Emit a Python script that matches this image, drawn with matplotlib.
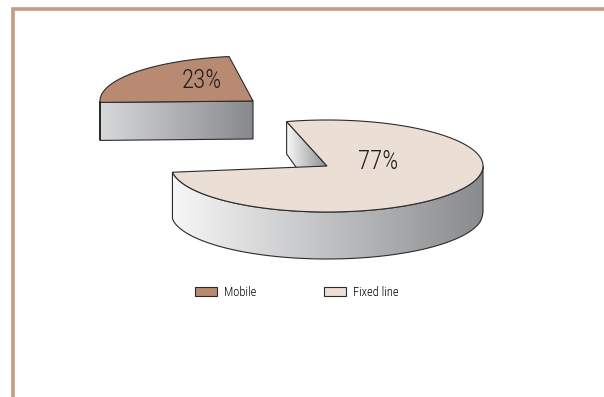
import numpy as np
import matplotlib
matplotlib.use('Agg')
import matplotlib.pyplot as plt
from matplotlib.patches import Polygon, Patch
from matplotlib.colors import LinearSegmentedColormap

categories = ['Mobile', 'Fixed line']
shares = [23, 77]
pct_labels = ['23%', '77%']
top_colors = ['#b98a72', '#ebdfd5']

FONT = ['Roboto Condensed', 'DejaVu Sans']
plt.rcParams['font.family'] = FONT
plt.rcParams['font.weight'] = 'light'

fig = plt.figure(figsize=(6.04, 3.97), dpi=100)
ax = fig.add_axes([0, 0, 1, 1])
ax.set_xlim(0, 604)
ax.set_ylim(397, 0)
ax.axis('off')

# frame (left + top)
ax.plot([13, 13, 604], [397, 9, 9], color='#c49b84', lw=2.6, solid_joinstyle='miter')

# layout of each slice (exploded mobile slice drawn separately, perspective tweaks)
geom = {
    'Mobile':     dict(cx=253, cy=101, a=153, b=45, rot=-6, dmax=38, dmin=38,
                       light='#d6d8da', dark='#87898c'),
    'Fixed line': dict(cx=327, cy=166, a=156, b=46, rot=0, dmax=47, dmin=32,
                       light='#f7f7f7', dark='#898b8e'),
}
start_angle = 105.0
label_pos = {'Mobile': (202, 81), 'Fixed line': (378, 162)}


def grad_fill(poly_xy, light, dark):
    poly = Polygon(poly_xy, closed=True, facecolor='none', edgecolor='none')
    ax.add_patch(poly)
    xs, ys = poly_xy[:, 0], poly_xy[:, 1]
    cmap = LinearSegmentedColormap.from_list('g', [light, dark])
    grad = np.linspace(0, 1, 256).reshape(1, -1)
    im = ax.imshow(grad, cmap=cmap, aspect='auto',
                   extent=[xs.min(), xs.max(), ys.max(), ys.min()], zorder=1)
    im.set_clip_path(poly)
    ax.add_patch(Polygon(poly_xy, closed=True, facecolor='none',
                         edgecolor='#2b2b2b', lw=0.8, zorder=2))


cum = start_angle
slices = []
for cat, val in zip(categories, shares):
    span = 360.0 * val / sum(shares)
    slices.append((cat, cum, cum + span))
    cum += span

for (cat, t1, t2), col, lab in zip(slices, top_colors, pct_labels):
    g = geom[cat]
    cx, cy, a, b = g['cx'], g['cy'], g['a'], g['b']
    t1 += g['rot']
    t2 += g['rot']

    def pt(t):
        r = np.radians(t)
        return cx + a * np.cos(r), cy - b * np.sin(r)

    def depth(y):
        # nearer (lower) parts look deeper
        f = np.clip((y - (cy - b)) / (b + 9), 0, 1)
        return g['dmin'] + (g['dmax'] - g['dmin']) * f

    for t, cond in ((t2, np.cos(np.radians(t2)) < 0), (t1, np.cos(np.radians(t1)) > 0)):
        if cond:
            ex, ey = pt(t)
            face = np.array([[cx, cy], [ex, ey], [ex, ey + depth(ey)],
                             [cx, cy + depth(cy)]])
            grad_fill(face, g['light'], g['dark'])

    ts = np.linspace(t1, t2, 600)
    front = ts[np.sin(np.radians(ts)) <= 0.0]
    if front.size > 1:
        topx, topy = pt(front)
        dep = depth(topy)
        side = np.column_stack([np.r_[topx, topx[::-1]],
                                np.r_[topy, (topy + dep)[::-1]]])
        grad_fill(side, g['light'], g['dark'])

    arc_x, arc_y = pt(ts)
    top = np.column_stack([np.r_[cx, arc_x], np.r_[cy, arc_y]])
    ax.add_patch(Polygon(top, closed=True, facecolor=col, edgecolor='#2b2b2b',
                         lw=0.8, zorder=3))
    lx, ly = label_pos[cat]
    ax.text(lx, ly, lab, ha='center', va='center', fontsize=18,
            color='#231f20', zorder=4, family=FONT, fontweight='light')

handles = [Patch(facecolor=c, edgecolor='#2b2b2b', lw=0.8) for c in top_colors]
ax.legend(handles, categories, loc='center left', bbox_to_anchor=(195 / 604, 1 - 292.5 / 397),
          bbox_transform=fig.transFigure, ncol=2, frameon=False,
          borderpad=0, borderaxespad=0,
          handlelength=1.76, handleheight=0.72, handletextpad=0.56,
          columnspacing=5.4, prop={'family': FONT, 'size': 9, 'weight': 'light'})

fig.savefig('out.png', dpi=100, facecolor='white')
